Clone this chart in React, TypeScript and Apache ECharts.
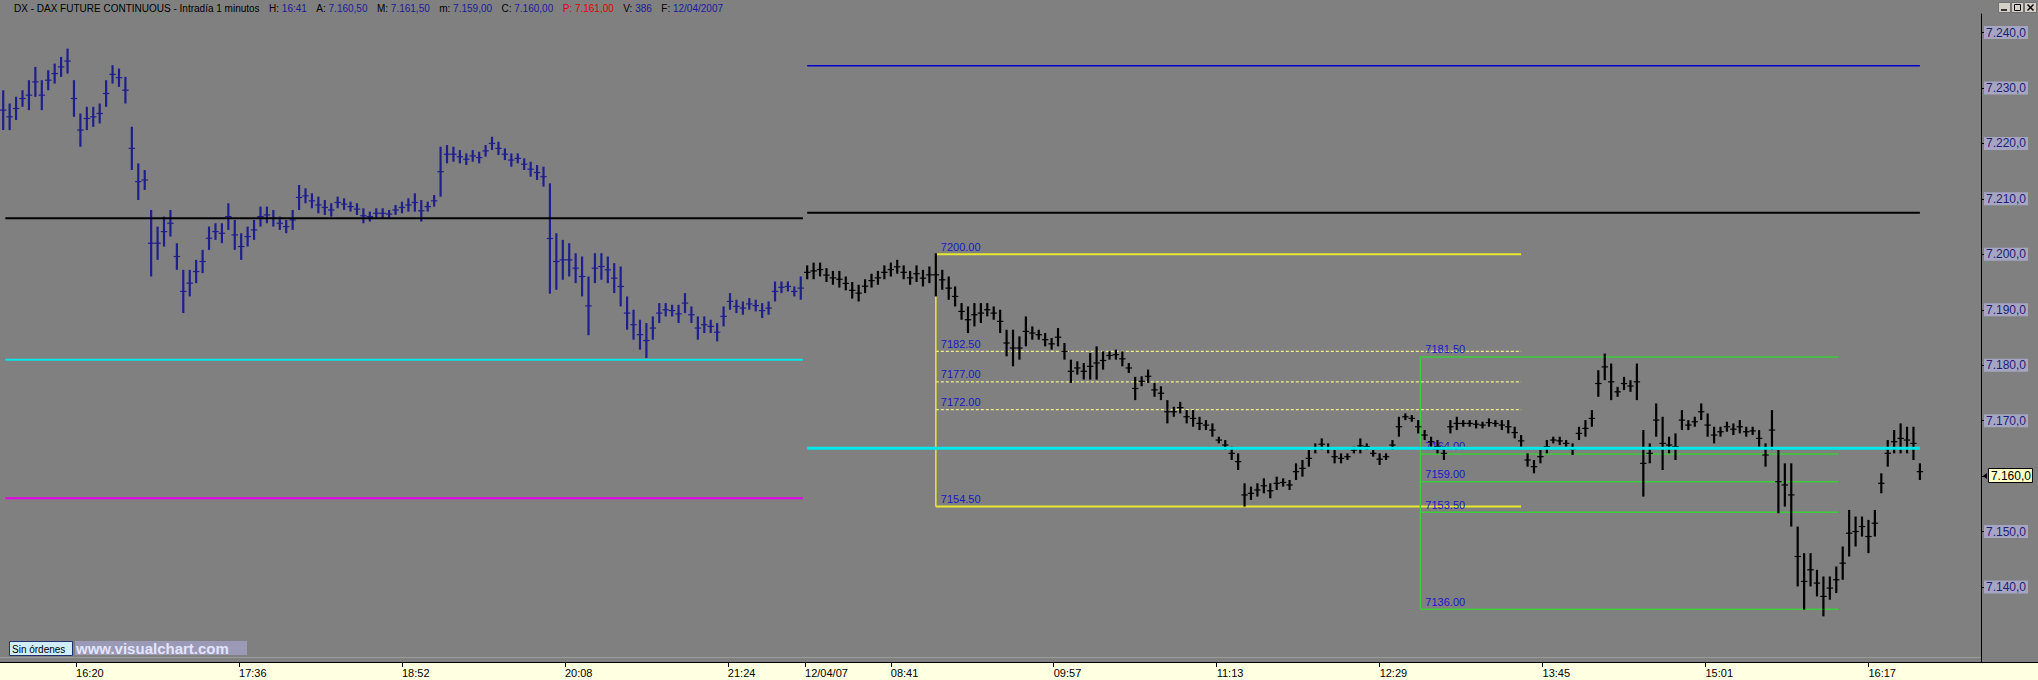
import React, { useEffect, useRef } from 'react';
import * as echarts from 'echarts';

// ---------- axis data ----------
const BAR_COUNT = 924;
const DAY1_START_MIN = 15 * 60 + 45; // first bar of 11/04/07
const DAY1_LAST_INDEX = 374;
const DAY2_FIRST_INDEX = 375;
const DAY2_START_MIN = 8 * 60 + 1; // first bar of 12/04/07

const tickIndices = [35, 111, 187, 263, 339, 375, 415, 491, 567, 643, 719, 795, 871];
const tickLabels = ['16:20', '17:36', '18:52', '20:08', '21:24', '12/04/07', '08:41', '09:57', '11:13', '12:29', '13:45', '15:01', '16:17'];
const yTicks = [7240, 7230, 7220, 7210, 7200, 7190, 7180, 7170, 7160, 7150, 7140];
const Y_MIN = 7126.47;
const Y_MAX = 7243.34;

// ---------- price data (3-minute samples) ----------
const SAMPLE_STEP = 3;
const day1High = [
  7229.6, 7227.2, 7228.4, 7229.6, 7231.4, 7233.8, 7231.4, 7233.2, 7234.4, 7235.6,
  7237.1, 7231.4, 7225.4, 7226.6, 7226.6, 7227.2, 7231.4, 7234.1, 7233.5, 7232.0,
  7223.0, 7216.4, 7215.2, 7208.0, 7205.0, 7206.8, 7208.0, 7202.0, 7197.2, 7197.2,
  7199.0, 7200.8, 7205.0, 7205.6, 7205.6, 7209.2, 7206.2, 7203.8, 7205.0, 7206.2,
  7208.6, 7208.6, 7208.0, 7206.8, 7206.2, 7208.0, 7212.5, 7211.9, 7211.0, 7210.4,
  7209.8, 7209.2, 7210.4, 7210.1, 7209.5, 7209.2, 7208.3, 7207.7, 7208.3, 7208.3,
  7208.0, 7208.9, 7209.5, 7210.1, 7211.0, 7209.8, 7209.5, 7210.7, 7219.4, 7219.7,
  7219.4, 7218.8, 7218.2, 7218.8, 7218.5, 7219.7, 7221.2, 7220.3, 7219.1, 7218.2,
  7218.2, 7217.3, 7216.7, 7216.1, 7215.8, 7212.8, 7203.8, 7202.6, 7202.0, 7200.2,
  7199.6, 7196.0, 7200.2, 7200.2, 7199.6, 7198.4, 7197.8, 7192.4, 7190.0, 7188.2,
  7187.6, 7188.8, 7191.2, 7191.2, 7190.9, 7190.9, 7193.0, 7190.6, 7188.8, 7188.8,
  7188.2, 7187.6, 7190.6, 7193.0, 7191.8, 7191.5, 7192.1, 7191.8, 7191.2, 7191.5,
  7195.1, 7195.1, 7195.1, 7194.2, 7196.0,
];
const day1Low = [
  7222.4, 7222.4, 7224.2, 7226.6, 7226.0, 7228.4, 7226.0, 7229.6, 7230.8, 7232.0,
  7232.6, 7224.8, 7219.4, 7222.4, 7223.0, 7223.6, 7226.6, 7230.8, 7230.2, 7227.2,
  7215.2, 7209.8, 7211.6, 7196.0, 7199.0, 7201.4, 7203.2, 7197.2, 7189.4, 7192.4,
  7194.8, 7196.6, 7200.8, 7202.6, 7202.0, 7204.4, 7200.8, 7199.0, 7201.4, 7202.6,
  7205.0, 7205.6, 7205.0, 7204.4, 7203.8, 7204.4, 7208.0, 7209.2, 7208.3, 7207.4,
  7207.1, 7206.8, 7208.3, 7208.0, 7207.7, 7207.1, 7205.6, 7205.9, 7206.5, 7206.5,
  7206.5, 7207.1, 7207.4, 7207.7, 7207.7, 7205.9, 7207.7, 7208.6, 7210.4, 7216.4,
  7216.7, 7216.4, 7216.1, 7216.7, 7216.4, 7217.6, 7218.8, 7217.9, 7217.0, 7215.8,
  7216.4, 7215.2, 7214.0, 7213.4, 7212.2, 7192.9, 7193.6, 7195.4, 7196.0, 7194.8,
  7192.4, 7185.4, 7194.8, 7195.4, 7194.8, 7193.0, 7190.6, 7186.4, 7184.6, 7182.8,
  7181.3, 7184.6, 7187.6, 7188.8, 7188.8, 7187.6, 7189.4, 7187.6, 7184.6, 7185.8,
  7185.8, 7184.3, 7187.0, 7190.0, 7189.4, 7189.1, 7190.0, 7189.7, 7188.5, 7189.1,
  7191.5, 7193.0, 7193.3, 7192.4, 7191.8,
];
const day2High = [
  7198.0, 7198.5, 7198.5, 7197.5, 7197.0, 7197.0, 7196.0, 7195.0, 7194.5, 7195.5,
  7196.5, 7197.0, 7198.0, 7198.5, 7199.0, 7198.0, 7197.0, 7198.0, 7197.2, 7197.8,
  7200.2, 7197.2, 7196.0, 7194.2, 7191.2, 7190.6, 7191.2, 7191.2, 7191.2, 7190.6,
  7190.0, 7186.4, 7186.4, 7185.2, 7188.8, 7187.0, 7186.4, 7185.8, 7184.9, 7186.7,
  7184.0, 7181.0, 7180.7, 7180.4, 7182.2, 7183.4, 7182.5, 7182.5, 7182.8, 7182.5,
  7180.4, 7177.9, 7178.0, 7179.2, 7176.8, 7176.2, 7173.7, 7172.5, 7173.4, 7171.9,
  7171.9, 7170.7, 7170.1, 7169.5, 7167.1, 7166.5, 7165.3, 7164.1, 7158.7, 7158.1,
  7158.7, 7159.6, 7158.7, 7159.9, 7159.6, 7159.3, 7162.3, 7162.9, 7164.7, 7165.9,
  7166.8, 7165.9, 7164.7, 7164.1, 7164.1, 7165.3, 7166.8, 7165.9, 7164.7, 7164.1,
  7164.1, 7166.5, 7170.7, 7171.3, 7171.0, 7170.1, 7168.3, 7167.1, 7166.5, 7165.3,
  7170.1, 7170.7, 7170.1, 7170.1, 7170.1, 7169.8, 7170.4, 7170.1, 7170.1, 7170.1,
  7168.9, 7167.4, 7164.1, 7162.9, 7164.7, 7166.5, 7167.1, 7167.1, 7166.5, 7165.9,
  7168.9, 7170.1, 7171.9, 7179.1, 7182.1, 7180.3, 7176.1, 7177.9, 7177.3, 7180.3,
  7168.3, 7165.9, 7173.1, 7170.7, 7167.1, 7167.7, 7171.9, 7170.1, 7170.7, 7173.1,
  7171.3, 7168.9, 7168.9, 7169.8, 7169.5, 7170.1, 7168.9, 7168.9, 7168.3, 7165.9,
  7171.9, 7164.7, 7162.3, 7162.3, 7150.9, 7146.1, 7146.1, 7143.1, 7141.9, 7141.9,
  7143.7, 7147.3, 7153.9, 7152.7, 7152.7, 7152.1, 7153.9, 7160.5, 7166.5, 7168.3,
  7169.5, 7168.9, 7168.9, 7162.3,
];
const day2Low = [
  7195.5, 7195.5, 7196.0, 7195.0, 7194.5, 7194.0, 7193.5, 7192.0, 7191.5, 7193.0,
  7194.0, 7194.5, 7195.5, 7196.0, 7196.5, 7195.5, 7194.5, 7195.0, 7194.2, 7194.8,
  7192.4, 7193.6, 7191.8, 7190.6, 7188.2, 7185.8, 7187.0, 7187.6, 7188.8, 7188.2,
  7185.8, 7181.6, 7179.8, 7181.0, 7183.4, 7184.6, 7184.6, 7183.4, 7182.8, 7183.4,
  7181.0, 7176.8, 7178.3, 7177.4, 7177.4, 7177.4, 7179.2, 7181.0, 7181.0, 7179.8,
  7178.6, 7173.7, 7176.2, 7176.8, 7174.3, 7173.7, 7169.5, 7170.7, 7171.3, 7169.5,
  7168.9, 7168.3, 7168.3, 7167.1, 7165.9, 7164.7, 7162.9, 7161.1, 7154.5, 7155.7,
  7156.3, 7156.9, 7156.0, 7157.5, 7158.1, 7157.5, 7159.3, 7159.9, 7161.7, 7164.1,
  7164.7, 7164.1, 7162.3, 7162.3, 7162.9, 7164.1, 7164.1, 7164.7, 7163.5, 7162.0,
  7162.9, 7164.7, 7167.1, 7170.1, 7169.8, 7167.7, 7166.5, 7165.3, 7164.1, 7162.9,
  7167.7, 7168.3, 7168.9, 7168.9, 7168.6, 7168.6, 7168.9, 7168.9, 7168.3, 7167.7,
  7166.8, 7165.3, 7161.7, 7160.5, 7162.3, 7164.1, 7165.9, 7165.6, 7165.3, 7163.8,
  7166.5, 7167.1, 7168.9, 7174.3, 7177.3, 7173.7, 7174.3, 7175.5, 7175.2, 7173.7,
  7156.3, 7162.3, 7167.1, 7161.1, 7164.1, 7162.9, 7168.3, 7168.3, 7168.9, 7170.1,
  7167.1, 7165.9, 7167.1, 7168.0, 7167.4, 7167.7, 7167.1, 7167.4, 7165.3, 7161.7,
  7164.7, 7153.3, 7154.5, 7150.9, 7140.1, 7135.9, 7140.1, 7138.3, 7134.7, 7137.7,
  7138.9, 7141.3, 7145.5, 7147.3, 7149.1, 7146.1, 7149.1, 7156.9, 7161.7, 7164.1,
  7164.1, 7164.1, 7162.9, 7159.3,
];
const LAST_PRICE = 7160.0;

// ---------- study lines ----------
const day1Span = [2, 374];
const day1LineValues = [7206.5, 7181.0, 7156.0];
const day2Span = [376, 895];
const day2LineValues = [7234.0, 7207.5, 7165.0];
const fibYellowSpan = [436, 709];
const fibYellowLevels = [7200.0, 7182.5, 7177.0, 7172.0, 7154.5];
const fibGreenSpan = [662, 857];
const fibGreenLevels = [7181.5, 7164.0, 7159.0, 7153.5, 7136.0];

// ---------- header ----------
const headerTitle = 'DX - DAX FUTURE CONTINUOUS - Intradía 1 minutos';
const headerKeys = ['H:', 'A:', 'M:', 'm:', 'C:', 'P:', 'V:', 'F:'];
const headerValues = ['16:41', '7.160,50', '7.161,50', '7.159,00', '7.160,00', '7.161,00', '386', '12/04/2007'];

// ---------- styles ----------
const BG = '#808080';
const DAY1_COLOR = '#1e1e8e';
const DAY2_COLOR = '#000000';
const day1LineColors = ['#000000', '#00e8e8', '#e800e8'];
const day2LineColors = ['#0000d0', '#000000', '#00e8e8'];
const day1LineWidths = [2, 2, 2];
const day2LineWidths = [1.5, 2, 3];
const yellowSolid = '#e8e830';
const yellowDash = '#f0f088';
const green = '#3ccc3c';
const FIB_TEXT = '#1818c8';
const NAVY = '#1a1a9a';
const RED = '#e00000';
const HEADER_START = 14;
const HEADER_END = 723;
const BAR_STROKE = 2.2;

const pad = (n: number) => String(n).padStart(2, '0');
const fmtMin = (m: number) => pad(Math.floor(m / 60) % 24) + ':' + pad(m % 60);
const categories = Array.from({ length: BAR_COUNT }, (_, i) =>
  i <= DAY1_LAST_INDEX ? fmtMin(DAY1_START_MIN + i) : fmtMin(DAY2_START_MIN + i - DAY2_FIRST_INDEX)
);
const labelMap = new Map<number, string>(tickIndices.map((t, i) => [t, tickLabels[i]]));
const fmtPrice = (v: number) => {
  const s = v.toFixed(1).replace('.', ',');
  const [ip, dp] = s.split(',');
  return ip.slice(0, ip.length - 3) + '.' + ip.slice(-3) + ',' + dp;
};

const SANS = "'Liberation Sans', Arial, sans-serif";
const HEADER_FONT = `10px ${SANS}`;

function measure(text: string, font: string) {
  const c = document.createElement('canvas').getContext('2d')!;
  c.font = font;
  return c.measureText(text).width;
}

function headerGraphics() {
  const items: [string, string][] = [[headerTitle, '#000']];
  headerKeys.forEach((k, i) => {
    const red = k === 'P:';
    items.push([k, red ? RED : '#000']);
    items.push([headerValues[i], red ? RED : NAVY]);
  });
  const widths = items.map(([t]) => measure(t, HEADER_FONT));
  const space = measure(' ', HEADER_FONT);
  const total = widths.reduce((a, b) => a + b, 0);
  const nGaps = headerKeys.length;
  const gap = (HEADER_END - HEADER_START - total - headerKeys.length * space) / nGaps;
  let x = HEADER_START;
  const out: any[] = [];
  items.forEach(([t, c], i) => {
    out.push({ type: 'text', x, y: 8, z: 10, style: { text: t, fill: c, font: HEADER_FONT, textVerticalAlign: 'middle' } });
    x += widths[i];
    if (i === 0) x += gap;
    else if (i % 2 === 1) x += space;
    else x += gap;
  });
  return out;
}

// each 3-minute sample: a high-low bar with a tick across the sample width at the middle of its range
function barSeries(name: string, lows: number[], highs: number[], firstIndex: number, color: string) {
  return {
    type: 'custom',
    name,
    z: 3,
    data: lows.map((lo, k) => [firstIndex + SAMPLE_STEP * k + 1, lo, highs[k]]),
    encode: { x: 0, y: [1, 2] },
    renderItem: (_p: any, api: any) => {
      const x = api.value(0);
      const top = api.coord([x, api.value(2)]);
      const bot = api.coord([x, api.value(1)]);
      const band = api.size([1, 0])[0];
      const half = (band * SAMPLE_STEP) / 2;
      const mid = (top[1] + bot[1]) / 2;
      return {
        type: 'group',
        children: [
          {
            type: 'rect',
            shape: { x: top[0] - BAR_STROKE / 2, y: top[1], width: BAR_STROKE, height: Math.max(1.5, bot[1] - top[1]) },
            style: { fill: color },
          },
          {
            type: 'line',
            shape: { x1: top[0] - half, y1: mid, x2: top[0] + half, y2: mid },
            style: { stroke: color, lineWidth: 1.2 },
          },
        ],
      };
    },
  };
}

function levelSeries(name: string, span: number[], values: number[], colors: string[], widths: number[], dashes: (number[] | null)[], withLabels: boolean, z: number) {
  return {
    type: 'custom',
    name,
    z,
    data: values.map((v) => [span[0], span[1], v]),
    encode: { x: [0, 1], y: 2 },
    renderItem: (p: any, api: any) => {
      const a = api.coord([api.value(0), api.value(2)]);
      const b = api.coord([api.value(1), api.value(2)]);
      const i = p.dataIndex;
      const children: any[] = [
        {
          type: 'line',
          shape: { x1: a[0], y1: a[1], x2: b[0], y2: b[1] },
          style: { stroke: colors[i], lineWidth: widths[i], lineDash: dashes[i] || undefined },
        },
      ];
      if (withLabels) {
        children.push({
          type: 'text',
          x: a[0] + 5,
          y: a[1] - 2,
          style: { text: api.value(2).toFixed(2), fill: FIB_TEXT, font: `11px ${SANS}`, textVerticalAlign: 'bottom' },
        });
      }
      return { type: 'group', children };
    },
  };
}

function verticalSeries(name: string, x: number, v0: number, v1: number, color: string, z: number) {
  return {
    type: 'custom',
    name,
    z,
    data: [[x, v0, v1]],
    encode: { x: 0, y: [1, 2] },
    renderItem: (_p: any, api: any) => {
      const a = api.coord([api.value(0), api.value(1)]);
      const b = api.coord([api.value(0), api.value(2)]);
      return { type: 'line', shape: { x1: a[0], y1: a[1], x2: b[0], y2: b[1] }, style: { stroke: color, lineWidth: 1.5 } };
    },
  };
}

export default function App() {
  const ref = useRef<HTMLDivElement>(null);
  useEffect(() => {
    if (!ref.current) return;
    const chart = echarts.init(ref.current, null, { renderer: 'svg' });
    const interval = (index: number) => labelMap.has(index);
    const solid5 = [null, null, null, null, null];
    const yellowDashes = [null, [3, 2], [3, 2], [3, 2], null];
    const option: any = {
      animation: false,
      backgroundColor: BG,
      grid: { left: 0, right: 57, top: 14, bottom: 18 },
      xAxis: {
        type: 'category',
        data: categories,
        boundaryGap: true,
        axisLine: { show: false },
        axisTick: { show: true, interval, alignWithLabel: true, length: 5, lineStyle: { color: '#000' } },
        axisLabel: {
          interval,
          formatter: (_v: string, i: number) => labelMap.get(i) || '',
          align: 'left',
          color: '#000',
          fontSize: 11,
          fontFamily: SANS,
          margin: 5,
        },
        splitLine: { show: false },
      },
      yAxis: {
        type: 'value',
        position: 'right',
        min: Y_MIN,
        max: Y_MAX,
        scale: true,
        axisLine: { show: true, lineStyle: { color: '#000', width: 1 } },
        axisTick: { show: true, customValues: yTicks, length: 4, lineStyle: { color: '#000' } },
        axisLabel: {
          customValues: yTicks.filter((v) => v !== LAST_PRICE),
          formatter: (v: number) => fmtPrice(v),
          color: '#1e1e70',
          backgroundColor: '#a6a6c2',
          padding: [1, 2, 0, 2],
          fontSize: 12,
          fontFamily: SANS,
          margin: 3,
        },
        splitLine: { show: false },
      },
      series: [
        levelSeries('fibYellow', fibYellowSpan, fibYellowLevels,
          [yellowSolid, yellowDash, yellowDash, yellowDash, yellowSolid], [2, 1.2, 1.2, 1.2, 2], yellowDashes, true, 2),
        verticalSeries('fibYellowEdge', fibYellowSpan[0], fibYellowLevels[0], fibYellowLevels[4], yellowSolid, 2),
        levelSeries('fibGreen', fibGreenSpan, fibGreenLevels,
          [green, green, green, green, green], [1.5, 1.5, 1.5, 1.5, 1.5], solid5, true, 2),
        verticalSeries('fibGreenEdge', fibGreenSpan[0], fibGreenLevels[0], fibGreenLevels[4], green, 2),
        barSeries('day1', day1Low, day1High, 0, DAY1_COLOR),
        barSeries('day2', day2Low, day2High, DAY2_FIRST_INDEX, DAY2_COLOR),
        levelSeries('day1Lines', day1Span, day1LineValues, day1LineColors, day1LineWidths, [null, null, null], false, 4),
        levelSeries('day2Lines', day2Span, day2LineValues, day2LineColors, day2LineWidths, [null, null, null], false, 4),
        {
          type: 'custom',
          name: 'lastPrice',
          z: 6,
          clip: false,
          data: [[BAR_COUNT - 1, LAST_PRICE]],
          encode: { x: 0, y: 1 },
          renderItem: (_p: any, api: any) => {
            const c = api.coord([api.value(0), api.value(1)]);
            const x0 = c[0] + 2;
            const y = Math.round(c[1]);
            return {
              type: 'group',
              children: [
                { type: 'polygon', shape: { points: [[x0 + 1, y], [x0 + 5, y - 3], [x0 + 5, y + 3]] }, style: { fill: '#000' } },
                { type: 'rect', shape: { x: x0 + 6.5, y: y - 7.5, width: 44, height: 14 }, style: { fill: '#ffffc8', stroke: '#000', lineWidth: 1 } },
                { type: 'text', x: x0 + 9, y: y, style: { text: fmtPrice(api.value(1)), fill: '#000', font: `12px ${SANS}`, textVerticalAlign: 'middle' } },
              ],
            };
          },
        },
      ],
      graphic: [
        { type: 'rect', z: -1, shape: { x: 0, y: 662, width: 2038, height: 18 }, style: { fill: '#ffffe1' } },
        { type: 'line', z: 10, shape: { x1: 0, y1: 662.5, x2: 2038, y2: 662.5 }, style: { stroke: '#000', lineWidth: 1 } },
        { type: 'line', z: 1, shape: { x1: 0, y1: 657.5, x2: 1981, y2: 657.5 }, style: { stroke: '#9c9c9c', lineWidth: 1 } },
        ...headerGraphics(),
        { type: 'rect', z: 10, shape: { x: 1998.5, y: 2.5, width: 12, height: 10 }, style: { fill: '#d4d0c8', stroke: '#707070' } },
        { type: 'rect', z: 10, shape: { x: 2011.5, y: 2.5, width: 12, height: 10 }, style: { fill: '#d4d0c8', stroke: '#707070' } },
        { type: 'rect', z: 10, shape: { x: 2024.5, y: 2.5, width: 12, height: 10 }, style: { fill: '#d4d0c8', stroke: '#707070' } },
        { type: 'line', z: 11, shape: { x1: 2001, y1: 10, x2: 2007, y2: 10 }, style: { stroke: '#000', lineWidth: 1.5 } },
        { type: 'rect', z: 11, shape: { x: 2014.5, y: 4.5, width: 6, height: 6 }, style: { fill: 'none', stroke: '#000', lineWidth: 1 } },
        { type: 'line', z: 11, shape: { x1: 2027.5, y1: 4.5, x2: 2033.5, y2: 10.5 }, style: { stroke: '#000', lineWidth: 1.5 } },
        { type: 'line', z: 11, shape: { x1: 2033.5, y1: 4.5, x2: 2027.5, y2: 10.5 }, style: { stroke: '#000', lineWidth: 1.5 } },
        { type: 'rect', z: 10, shape: { x: 9.5, y: 641.5, width: 63, height: 14 }, style: { fill: '#cfeefa', stroke: '#203070', lineWidth: 1 } },
        { type: 'text', z: 11, x: 12, y: 649, style: { text: 'Sin órdenes', fill: '#000', font: `10px ${SANS}`, textVerticalAlign: 'middle' } },
        { type: 'rect', z: 10, shape: { x: 75, y: 641, width: 172, height: 14 }, style: { fill: '#9a9ab6' } },
        { type: 'text', z: 11, x: 76, y: 648.5, style: { text: 'www.visualchart.com', fill: '#e4e4ff', font: `bold 15px ${SANS}`, textVerticalAlign: 'middle' } },
      ],
    };
    chart.setOption(option);
    return () => chart.dispose();
  }, []);
  return <div ref={ref} style={{ position: 'absolute', left: 0, top: 0, width: 2038, height: 680 }} />;
}
